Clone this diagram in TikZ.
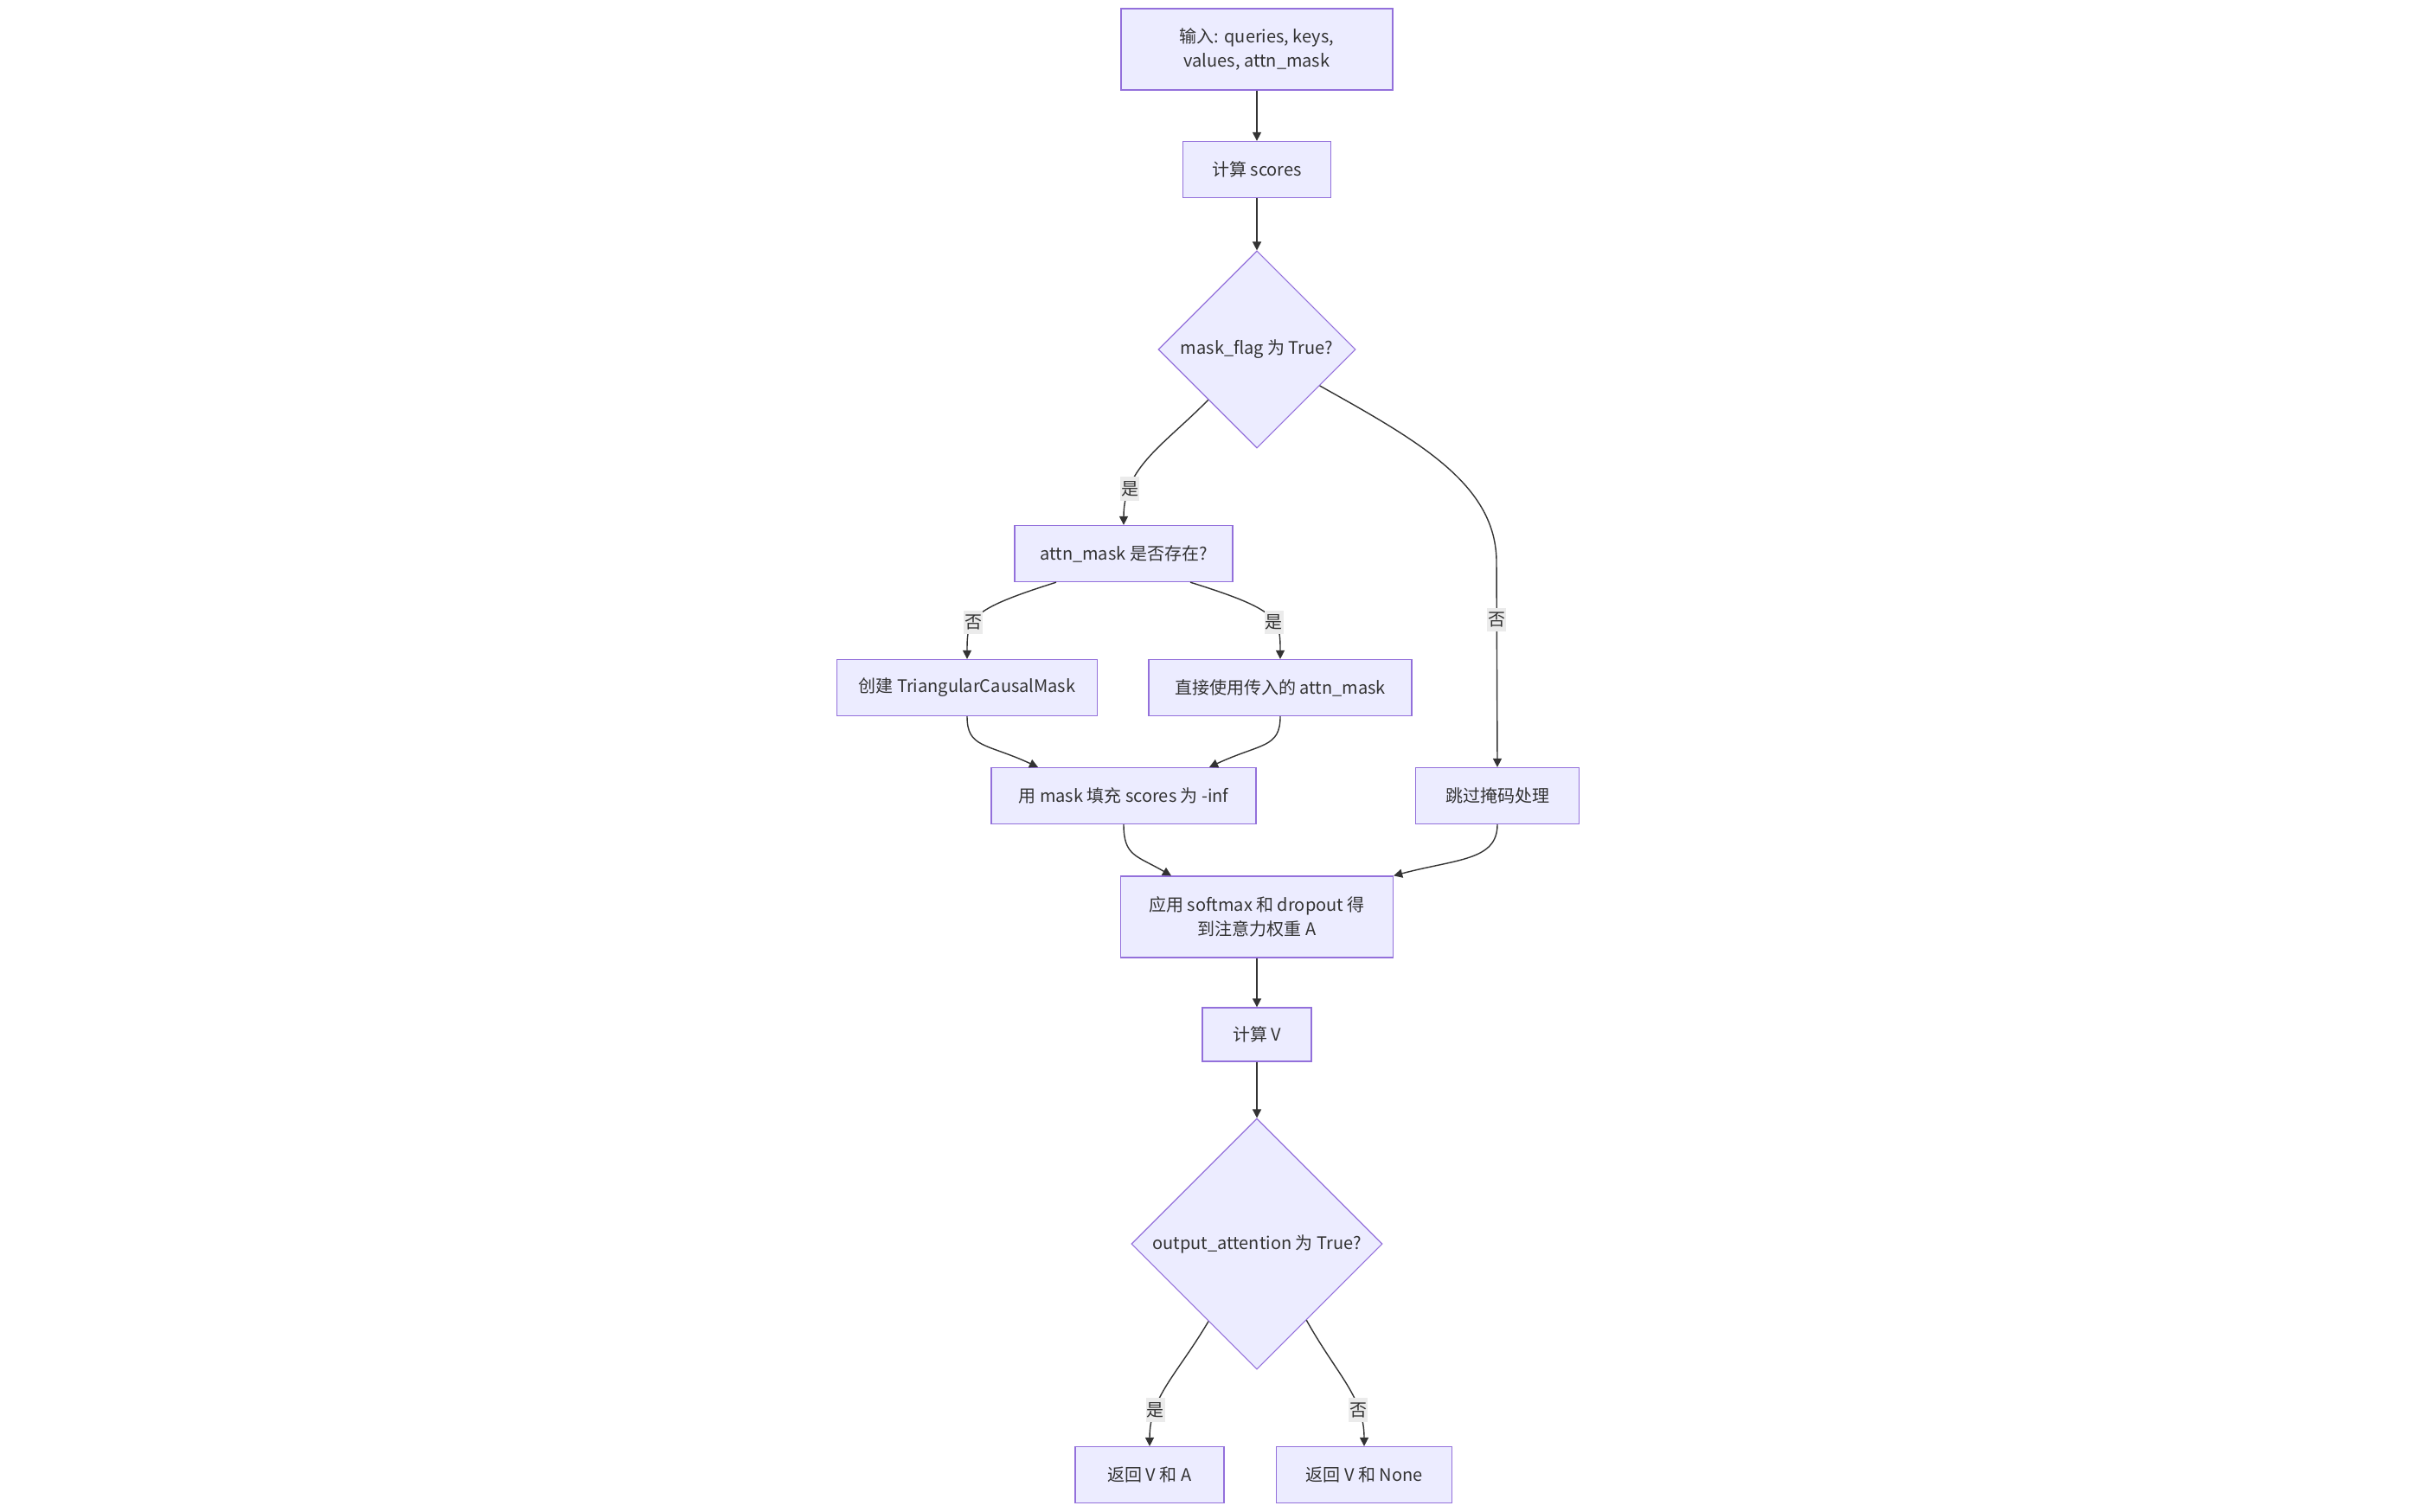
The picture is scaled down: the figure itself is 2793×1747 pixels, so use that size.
\documentclass[tikz,border=0pt]{standalone}
\usepackage{fontspec}
\setmainfont{Noto Sans CJK SC}
\usetikzlibrary{shapes.geometric,arrows.meta}
\definecolor{nodefill}{HTML}{ECECFF}
\definecolor{nodeline}{HTML}{9370DB}
\definecolor{edgeline}{HTML}{333333}
\definecolor{labelfill}{HTML}{EBEBEB}
\begin{document}
\begin{tikzpicture}[x=0.5pt,y=-0.5pt,
    font=\fontsize{10pt}{14pt}\selectfont,
    box/.style={draw=nodeline,fill=nodefill,line width=0.65pt,text=edgeline,align=center,inner sep=0pt,minimum height=32.5pt},
    decision/.style={diamond,aspect=1,draw=nodeline,fill=nodefill,line width=0.55pt,text=edgeline,inner sep=0pt},
    flow/.style={draw=edgeline,line width=0.7pt,-{Triangle[width=5pt,length=5pt]}},
    answer/.style={fill=labelfill,text=edgeline,inner xsep=0.5pt,inner ysep=2.5pt}]
			% Canvas
			\fill[white] (0,0) rectangle (2793,1747);
			\useasboundingbox (0,0) rectangle (2793,1747);

			% Steps and decisions
			\node[box,minimum width=157pt,minimum height=47pt] (inp) at (1453,57) {输入: queries, keys,\\values, attn\_mask};
			\node[box,minimum width=85.5pt] (scores) at (1453,196) {计算 scores};
			\node[decision,minimum width=114pt,minimum height=114pt] (d1) at (1453,404) {mask\_flag 为 True?};
			\node[box,minimum width=126pt] (attn) at (1299,640) {attn\_mask 是否存在?};
			\node[box,minimum width=150.5pt] (create) at (1118,795) {创建 TriangularCausalMask};
			\node[box,minimum width=152pt] (direct) at (1480,795) {直接使用传入的 attn\_mask};
			\node[box,minimum width=153pt] (fill) at (1299,920) {用 mask 填充 scores 为 -inf};
			\node[box,minimum width=94.5pt] (skip) at (1731,920) {跳过掩码处理};
			\node[box,minimum width=157.5pt,minimum height=47pt] (soft) at (1453,1060) {应用 softmax 和 dropout 得\\到注意力权重 A};
			\node[box,minimum width=63pt,minimum height=31pt] (calcv) at (1453,1196) {计算 V};
			\node[decision,minimum width=145pt,minimum height=145pt] (d2) at (1453,1438) {output\_attention 为 True?};
			\node[box,minimum width=86pt] (retA) at (1329,1705) {返回 V 和 A};
			\node[box,minimum width=101.5pt] (retN) at (1577,1705) {返回 V 和 None};
			\coordinate (skipbend) at (1730,650);

			% Straight connectors
			\draw[flow] (inp.south) -- (scores.north);
			\draw[flow] (scores.south) -- (d1.north);
			\draw[flow] (soft.south) -- (calcv.north);
			\draw[flow] (calcv.south) -- (d2.north);

			% mask_flag branches
			\draw[flow] (d1.-134) .. controls (1345,515) and (1299,540) .. node[answer,pos=0.76] {是} (attn.north);
			\draw[flow] (d1.-30) .. controls (1640,510) and (1730,560) .. (skipbend) -- node[answer,pos=0.28] {否} (skip.north);

			% attn_mask branches
			\draw[flow] ([xshift=-39pt]attn.south) .. controls (1120,705) and (1118,715) .. node[answer,pos=0.6] {否} (create.north);
			\draw[flow] ([xshift=38.5pt]attn.south) .. controls (1478,705) and (1480,715) .. node[answer,pos=0.6] {是} (direct.north);
			\draw[flow] (create.south) .. controls (1118,865) and (1140,859) .. ([xshift=-49.5pt]fill.north);
			\draw[flow] (direct.south) .. controls (1480,865) and (1458,859) .. ([xshift=49.5pt]fill.north);

			% Join at softmax
			\draw[flow] (fill.south) .. controls (1299,990) and (1314,989) .. ([xshift=-49.5pt]soft.north);
			\draw[flow] (skip.south) .. controls (1731,995) and (1684,993) .. (soft.north east);

			% output_attention branches
			\draw[flow] (d2.-122) .. controls (1360,1590) and (1329,1615) .. node[answer,pos=0.72] {是} (retA.north);
			\draw[flow] (d2.-57) .. controls (1546,1590) and (1577,1615) .. node[answer,pos=0.72] {否} (retN.north);
		\end{tikzpicture}
\end{document}
